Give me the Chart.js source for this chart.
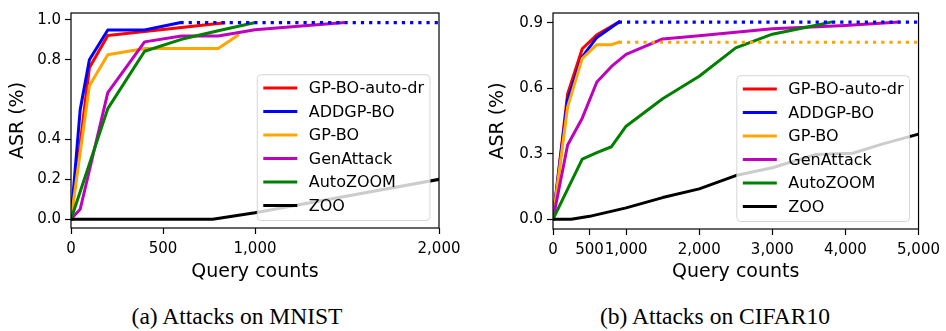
<!DOCTYPE html>
<html>
<head>
<meta charset="utf-8">
<script src="https://cdn.jsdelivr.net/npm/chart.js@4.4.0/dist/chart.umd.min.js"></script>
<style>
  html, body { margin: 0; padding: 0; background: #fff; }
  body { width: 946px; height: 331px; position: relative; overflow: hidden; }
  canvas { position: absolute; top: 0; }
  #mnist { left: 0; }
  #cifar { left: 480px; }
  .caption {
    position: absolute; top: 303px;
    font-family: 'Liberation Serif', 'Times New Roman', serif;
    font-size: 23.5px; line-height: 27px; white-space: nowrap;
    transform: translateX(-50%);
  }
</style>
</head>
<body>
<canvas id="mnist" width="470" height="290"></canvas>
<canvas id="cifar" width="466" height="290"></canvas>
<div class="caption" style="left:237px">(a) Attacks on MNIST</div>
<div class="caption" style="left:715px">(b) Attacks on CIFAR10</div>
<script>
const seriesNames = ['GP-BO-auto-dr', 'ADDGP-BO', 'GP-BO', 'GenAttack', 'AutoZOOM', 'ZOO'];
const seriesColors = ['#ff0000', '#0000ff', '#ffa500', '#bf00bf', '#008000', '#000000'];

// MNIST: [query count, ASR]
const mnistGpBoAutoDr = [[0, 0], [100, 0.76], [200, 0.922], [830, 0.985]];
const mnistAddgpBo = [[0, 0], [50, 0.55], [100, 0.8], [200, 0.95], [400, 0.95], [595, 0.987]];
const mnistGpBo = [[0, 0], [100, 0.67], [200, 0.825], [400, 0.857], [800, 0.857], [905, 0.922]];
const mnistGenAttack = [[0, 0], [50, 0.05], [200, 0.635], [400, 0.89], [600, 0.92], [800, 0.92], [1000, 0.951], [1480, 0.987]];
const mnistAutoZoom = [[0, 0], [200, 0.555], [400, 0.843], [600, 0.903], [800, 0.946], [1000, 0.987]];
const mnistZoo = [[0, 0], [770, 0], [1000, 0.033], [2000, 0.2]];
const mnistAddgpBoTail = [[595, 0.987], [2000, 0.987]];

// CIFAR10
const cifarGpBoAutoDr = [[0, 0], [200, 0.574], [400, 0.781], [600, 0.845], [900, 0.903]];
const cifarAddgpBo = [[0, 0], [200, 0.55], [400, 0.744], [600, 0.833], [900, 0.903]];
const cifarGpBo = [[0, 0], [200, 0.515], [400, 0.737], [600, 0.8], [800, 0.8], [900, 0.811]];
const cifarGenAttack = [[0, 0], [200, 0.34], [400, 0.463], [600, 0.629], [800, 0.7], [1000, 0.755], [1500, 0.826], [2000, 0.841], [3000, 0.873], [4000, 0.888], [4720, 0.903]];
const cifarAutoZoom = [[0, 0], [400, 0.275], [600, 0.305], [800, 0.332], [1000, 0.426], [1500, 0.552], [2000, 0.655], [2500, 0.785], [3000, 0.848], [3500, 0.882], [3800, 0.903]];
const cifarZoo = [[0, 0], [250, 0], [500, 0.013], [1000, 0.052], [1500, 0.099], [2000, 0.139], [2500, 0.2], [3000, 0.236], [3600, 0.297], [4100, 0.302], [4500, 0.344], [5000, 0.39]];
const cifarAddgpBoTail = [[900, 0.903], [5000, 0.903]];
const cifarGpBoTail = [[900, 0.811], [5000, 0.811]];

const mnistXTicks = [0, 500, 1000, 2000];
const mnistXTickLabels = ['0', '500', '1,000', '2,000'];
const mnistYTicks = [0, 0.2, 0.4, 0.8, 1.0];
const mnistYTickLabels = ['0.0', '0.2', '0.4', '0.8', '1.0'];

const cifarXTicks = [0, 500, 1000, 2000, 3000, 4000, 5000];
const cifarXTickLabels = ['0', '500', '1,000', '2,000', '3,000', '4,000', '5,000'];
const cifarYTicks = [0, 0.3, 0.6, 0.9];
const cifarYTickLabels = ['0.0', '0.3', '0.6', '0.9'];

const FONT = 'DejaVu Sans';

function solid(idx, pts) {
  return {
    label: seriesNames[idx],
    data: pts.map(([x, y]) => ({ x, y })),
    borderColor: seriesColors[idx],
    borderWidth: 3,
    borderJoinStyle: 'round',
    borderCapStyle: 'square',
    pointRadius: 0,
    fill: false,
    order: 20 - idx,
  };
}

function dotted(idx, pts) {
  return {
    label: seriesNames[idx],
    tail: true,
    data: pts.map(([x, y]) => ({ x, y })),
    borderColor: seriesColors[idx],
    borderWidth: 3.2,
    borderDash: [3.2, 5],
    borderCapStyle: 'butt',
    pointRadius: 0,
    fill: false,
    order: 5,
  };
}

// matplotlib-style box around the axes
const spines = {
  id: 'spines',
  afterDatasetsDraw(chart) {
    const { ctx, chartArea: a } = chart;
    ctx.save();
    ctx.strokeStyle = '#000';
    ctx.lineWidth = 1.2;
    ctx.strokeRect(a.left, a.top, a.right - a.left, a.bottom - a.top);
    ctx.restore();
  },
};

// legend box in the lower right of the plot area
const boxLegend = {
  id: 'boxLegend',
  afterDatasetsDraw(chart) {
    const { ctx, chartArea: a } = chart;
    const items = chart.data.datasets.filter((d) => !d.tail);
    ctx.save();
    ctx.font = '16px "' + FONT + '"';
    const textW = Math.max(...items.map((d) => ctx.measureText(d.label).width));
    const rowH = 23.5;
    const w = 6 + 34 + 11.5 + textW + 6;
    const h = 13.3 + (items.length - 1) * rowH + 15;
    const x = a.right - 9 - w;
    const y = a.bottom - 7.5 - h;
    ctx.beginPath();
    ctx.roundRect(x, y, w, h, 4);
    ctx.fillStyle = 'rgba(255,255,255,0.8)';
    ctx.fill();
    ctx.strokeStyle = 'rgba(204,204,204,0.8)';
    ctx.lineWidth = 1;
    ctx.stroke();
    items.forEach((d, i) => {
      const cy = y + 13.3 + i * rowH;
      ctx.beginPath();
      ctx.moveTo(x + 6, cy);
      ctx.lineTo(x + 40, cy);
      ctx.strokeStyle = d.borderColor;
      ctx.lineWidth = 3;
      ctx.lineCap = 'butt';
      ctx.stroke();
      ctx.fillStyle = '#000';
      ctx.textBaseline = 'middle';
      ctx.fillText(d.label, x + 51.5, cy + 1);
    });
    ctx.restore();
  },
};

function makeChart(id, cfg) {
  return new Chart(document.getElementById(id), {
    type: 'line',
    data: { datasets: cfg.datasets },
    options: {
      responsive: false,
      animation: false,
      layout: { autoPadding: false, padding: { left: 0, top: 6, right: cfg.padRight, bottom: 0 } },
      plugins: { legend: { display: false }, tooltip: { enabled: false } },
      elements: { line: { tension: 0 } },
      scales: {
        x: {
          type: 'linear',
          min: 0,
          max: cfg.xMax,
          afterBuildTicks: (s) => { s.ticks = cfg.xTicks.map((v) => ({ value: v })); },
          afterFit: (s) => { s.height = cfg.xAxisHeight; },
          ticks: {
            autoSkip: false, maxRotation: 0, minRotation: 0, padding: 6,
            color: '#000', font: { family: FONT, size: 15 },
            callback: (v, i) => cfg.xTickLabels[i],
          },
          grid: { drawOnChartArea: false, tickLength: 6, tickColor: '#000', tickWidth: 1.2 },
          border: { display: false },
          title: {
            display: true, text: 'Query counts', color: '#000',
            font: { family: FONT, size: 19 }, padding: { top: 0, bottom: 7 },
          },
        },
        y: {
          type: 'linear',
          min: cfg.yMin,
          max: cfg.yMax,
          afterBuildTicks: (s) => { s.ticks = cfg.yTicks.map((v) => ({ value: v })); },
          afterFit: (s) => { s.width = cfg.yAxisWidth; },
          ticks: {
            autoSkip: false, padding: 4,
            color: '#000', font: { family: FONT, size: 15 },
            callback: (v, i) => cfg.yTickLabels[i],
          },
          grid: { drawOnChartArea: false, tickLength: 6, tickColor: '#000', tickWidth: 1.2 },
          border: { display: false },
          title: {
            display: true, text: 'ASR (%)', color: '#000',
            font: { family: FONT, size: 19 }, padding: { top: 7, bottom: 0 },
          },
        },
      },
    },
    plugins: [spines, boxLegend],
  });
}

makeChart('mnist', {
  datasets: [
    solid(0, mnistGpBoAutoDr), solid(1, mnistAddgpBo), solid(2, mnistGpBo),
    solid(3, mnistGenAttack), solid(4, mnistAutoZoom), solid(5, mnistZoo),
    dotted(1, mnistAddgpBoTail),
  ],
  xMax: 2000, xTicks: mnistXTicks, xTickLabels: mnistXTickLabels,
  yMin: -0.044, yMax: 1.035, yTicks: mnistYTicks, yTickLabels: mnistYTickLabels,
  padRight: 31, xAxisHeight: 62, yAxisWidth: 71,
});

makeChart('cifar', {
  datasets: [
    solid(0, cifarGpBoAutoDr), solid(1, cifarAddgpBo), solid(2, cifarGpBo),
    solid(3, cifarGenAttack), solid(4, cifarAutoZoom), solid(5, cifarZoo),
    dotted(1, cifarAddgpBoTail), dotted(2, cifarGpBoTail),
  ],
  xMax: 5000, xTicks: cifarXTicks, xTickLabels: cifarXTickLabels,
  yMin: -0.045, yMax: 0.945, yTicks: cifarYTicks, yTickLabels: cifarYTickLabels,
  padRight: 25, xAxisHeight: 61, yAxisWidth: 73,
});
</script>
</body>
</html>
